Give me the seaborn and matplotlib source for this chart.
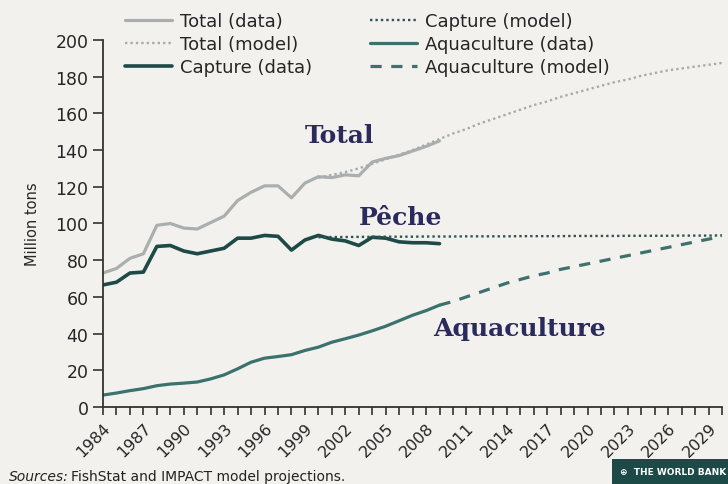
import numpy as np
import pandas as pd
import matplotlib
matplotlib.use("Agg")
import matplotlib.pyplot as plt
import seaborn as sns

# Data (million tons)
years_data = list(range(1984, 2010))
total_data = [73, 75.5, 81, 83.5, 99, 100, 97.5, 97, 100.5, 104, 112.5, 117, 120.5, 120.5, 114, 122,
              125.5, 125, 126.5, 126, 133.5, 135.5, 137, 139.5, 142, 145]
capture_data = [66.5, 68, 73, 73.5, 87.5, 88, 85, 83.5, 85, 86.5, 92, 92, 93.5, 93, 85.5, 91,
                93.5, 91.5, 90.5, 88, 92.5, 92, 90, 89.5, 89.5, 89]
aqua_data = [6.5, 7.6, 8.9, 10, 11.6, 12.5, 13, 13.6, 15.3, 17.5, 20.8, 24.4, 26.6, 27.5, 28.5, 30.8,
             32.6, 35.3, 37.2, 39.2, 41.5, 44, 47, 50, 52.5, 55.5]

years_model = list(range(2000, 2031))
total_model = [125, 126.5, 128, 130, 132.5, 135, 137.5, 140, 143, 146, 149, 151.5, 154.5, 157, 159.5,
               162, 164.5, 166.5, 169, 171, 173, 175, 177, 178.5, 180.5, 182, 183.5, 184.5, 185.5,
               186.5, 187.5]
capture_model = [92.5, 92.6, 92.6, 92.7, 92.7, 92.8, 92.8, 92.8, 92.9, 92.9, 92.9, 93.0, 93.0, 93.0,
                 93.0, 93.1, 93.1, 93.1, 93.1, 93.2, 93.2, 93.2, 93.2, 93.3, 93.3, 93.3, 93.3, 93.4,
                 93.4, 93.4, 93.5]

years_aqua_model = list(range(2009, 2031))
aqua_model = [55.5, 57.5, 60, 62.5, 65, 67.5, 69.5, 71.5, 73, 75, 76.5, 78, 79.5, 81, 82.5, 84, 85.5,
              87, 88.5, 90, 91.5, 93]

bg = "#f3f1ee"
sns.set_style("ticks")
plt.rcParams["font.family"] = ["DejaVu Sans"]

fig = plt.figure(figsize=(7.28, 4.85), dpi=100, facecolor=bg)
ax = fig.add_axes([0.1415, 0.1588, 0.8505, 0.7567], facecolor=bg)

sns.lineplot(x=years_data, y=total_data, ax=ax, color="#a9afaf", lw=2.3, label="Total (data)")
sns.lineplot(x=years_model, y=total_model, ax=ax, color="#a8abab", lw=1.7, linestyle=(0, (1, 1.3)),
             label="Total (model)")
sns.lineplot(x=years_data, y=capture_data, ax=ax, color="#1d4a47", lw=2.6, label="Capture (data)")
sns.lineplot(x=years_model, y=capture_model, ax=ax, color="#2a5553", lw=1.7, linestyle=(0, (1, 1.3)),
             label="Capture (model)")
sns.lineplot(x=years_data, y=aqua_data, ax=ax, color="#3b726e", lw=2.3, label="Aquaculture (data)")
sns.lineplot(x=years_aqua_model, y=aqua_model, ax=ax, color="#3e716e", lw=2.3, linestyle=(0, (3.5, 3)),
             label="Aquaculture (model)")

ax.set_xlim(1984, 2030)
ax.set_ylim(0, 200)
ax.set_yticks(range(0, 201, 20))
ax.set_xticks(range(1984, 2031))
ax.set_xticklabels([str(y) if (y - 1984) % 3 == 0 else "" for y in range(1984, 2031)],
                   rotation=45, ha="right", rotation_mode="anchor", fontsize=11.5)
ax.tick_params(axis="y", labelsize=12.5, length=7, width=1.2, color="#333333")
ax.tick_params(axis="x", length=6, width=1.2, color="#333333", pad=3)
for s in ["top", "right"]:
    ax.spines[s].set_visible(False)
for s in ["left", "bottom"]:
    ax.spines[s].set_color("#333333")
    ax.spines[s].set_linewidth(1.3)
ax.set_xlabel("")
ax.set_ylabel("Million tons", fontsize=10.5, labelpad=11)

# series annotations
navy = "#2b2a5c"
ax.text(1999.0, 148, "Total", fontsize=18, fontweight="bold", family="DejaVu Serif", color=navy, va="center")
ax.text(2003.0, 103.5, "Pêche", fontsize=18, fontweight="bold", family="DejaVu Serif", color=navy, va="center")
ax.text(2008.5, 43, "Aquaculture", fontsize=18, fontweight="bold", family="DejaVu Serif", color=navy, va="center")

leg = ax.legend(loc="upper left", bbox_to_anchor=(118 / 728, 1 - 6 / 485), bbox_transform=fig.transFigure,
                ncol=2, frameon=False, fontsize=13, handlelength=2.6, labelspacing=0.28,
                columnspacing=3.2, handletextpad=0.45, borderaxespad=0)

fig.text(0.012, 0.008, "Sources:", fontsize=10, style="italic", color="#222222")
fig.text(0.097, 0.008, "FishStat and IMPACT model projections.", fontsize=10, color="#222222")
fig.text(0.852, 0.02, "\u2295  THE WORLD BANK", fontsize=6.5, fontweight="bold", color="white",
         bbox=dict(boxstyle="square,pad=0.9", fc="#1b4a47", ec="none"))

fig.savefig("out.png", dpi=100, facecolor=bg)
